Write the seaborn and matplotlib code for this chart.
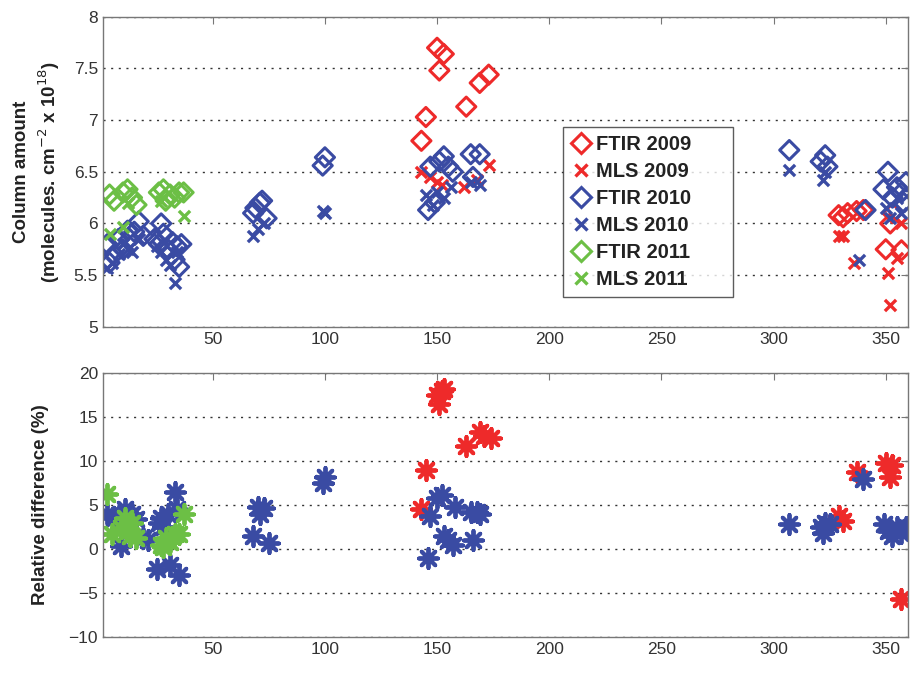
import numpy as np
import pandas as pd
import matplotlib
matplotlib.use("Agg")
import matplotlib.pyplot as plt
import seaborn as sns
from matplotlib.lines import Line2D

# Day of year / column amounts (molecules cm-2 x 1e18)
ftir09_x = [143, 145, 150, 151, 153, 163, 169, 173, 329, 331, 333, 337, 340, 350, 352, 353, 357]
ftir09_y = [6.80, 7.03, 7.70, 7.48, 7.64, 7.13, 7.36, 7.44, 6.08, 6.06, 6.10, 6.12, 6.13, 5.75, 6.00, 6.10, 5.74]
mls09_x = [143, 147, 150, 152, 162, 168, 173, 329, 331, 336, 351, 352, 355, 357]
mls09_y = [6.50, 6.45, 6.40, 6.37, 6.35, 6.42, 6.57, 5.88, 5.88, 5.62, 5.52, 5.21, 5.67, 6.00]

ftir10_x = [3, 4, 6, 8, 10, 12, 13, 15, 17, 19, 24, 26, 27, 28, 30, 32, 33, 34, 35, 36,
            68, 69, 71, 72, 74, 99, 100,
            146, 147, 149, 151, 153, 155, 157, 165, 166, 169,
            307, 321, 323, 324, 341, 349, 351, 353, 355, 357, 359, 358]
ftir10_y = [5.80, 5.62, 5.70, 5.85, 5.75, 5.93, 5.85, 5.92, 6.02, 5.88, 5.85, 5.80, 6.00, 5.90, 5.75, 5.82, 5.65, 5.78, 5.58, 5.80,
            6.10, 6.15, 6.20, 6.22, 6.05, 6.56, 6.64,
            6.13, 6.55, 6.20, 6.60, 6.65, 6.55, 6.50, 6.67, 6.45, 6.67,
            6.71, 6.60, 6.66, 6.55, 6.13, 6.33, 6.50, 6.25, 6.35, 6.30, 6.40, 6.20]
mls10_x = [3, 5, 8, 10, 12, 14, 17, 25, 27, 29, 31, 33, 34, 68, 70, 73, 99, 100,
           145, 148, 150, 153, 156, 165, 169, 307, 322, 323, 338, 350, 352, 355, 357]
mls10_y = [5.57, 5.62, 5.70, 5.80, 5.75, 5.72, 5.85, 5.78, 5.72, 5.65, 5.60, 5.42, 5.72, 5.88, 5.95, 6.00, 6.12, 6.10,
           6.28, 6.18, 6.30, 6.25, 6.35, 6.40, 6.37, 6.52, 6.42, 6.50, 5.65, 6.15, 6.05, 6.25, 6.10]

ftir11_x = [4, 6, 10, 12, 14, 16, 26, 28, 29, 31, 33, 35, 37]
ftir11_y = [6.28, 6.22, 6.30, 6.33, 6.25, 6.18, 6.30, 6.33, 6.22, 6.28, 6.25, 6.30, 6.30]
mls11_x = [4, 10, 12, 27, 37]
mls11_y = [5.90, 5.97, 6.20, 6.22, 6.07]

# Relative difference (%)
rd09_x = [143, 145, 150, 151, 152, 153, 163, 169, 171, 174, 329, 331, 337, 350, 352, 353, 357]
rd09_y = [4.6, 9.0, 17.5, 16.5, 18.0, 18.2, 11.7, 13.3, 12.8, 12.6, 3.8, 3.2, 8.7, 9.8, 8.2, 9.5, -5.7]
rd10_x = [3, 6, 8, 9, 11, 13, 14, 16, 19, 21, 25, 26, 27, 28, 30, 31, 33, 34, 35,
          68, 70, 71, 73, 75, 99, 100,
          146, 147, 150, 152, 153, 155, 157, 158, 165, 166, 168, 169,
          307, 321, 322, 323, 325, 340, 349, 351, 353, 355, 357, 359]
rd10_y = [4.0, 3.5, 3.9, 0.3, 4.6, 1.5, 4.0, 3.4, 1.2, 1.0, -2.3, 3.0, 3.5, 2.5, 4.0, -1.8, 6.5, 4.5, -2.9,
          1.5, 4.8, 4.0, 4.7, 0.7, 7.5, 8.2,
          -1.0, 3.7, 5.8, 6.1, 1.5, 1.0, 0.5, 4.8, 4.2, 1.0, 4.2, 4.0,
          2.8, 2.5, 1.8, 3.0, 2.8, 8.0, 2.8, 2.0, 1.5, 2.5, 1.8, 2.5]
rd11_x = [3, 5, 9, 11, 12, 13, 14, 16, 27, 28, 29, 31, 33, 35, 37]
rd11_y = [6.3, 1.7, 2.4, 3.5, 2.0, 1.5, 3.0, 1.2, 0.5, 0.2, 1.2, 0.8, 1.7, 1.7, 4.0]

red = "#ee2a2a"
blue = "#3a4ba3"
green = "#6cbf45"

sns.set_style("white")
plt.rcParams['font.family'] = ['Liberation Sans', 'DejaVu Sans']

fig = plt.figure(figsize=(9.1, 6.88), dpi=100)
ax1 = fig.add_axes([0.113, 0.525, 0.885, 0.4506])
ax2 = fig.add_axes([0.113, 0.0741, 0.885, 0.3837])

# top panel
top = [(ftir09_x, ftir09_y, red, "D"), (mls09_x, mls09_y, red, "x"),
       (ftir10_x, ftir10_y, blue, "D"), (mls10_x, mls10_y, blue, "x"),
       (ftir11_x, ftir11_y, green, "D"), (mls11_x, mls11_y, green, "x")]
for xs, ys, c, m in top:
    if m == "D":
        sns.scatterplot(x=xs, y=ys, ax=ax1, marker="D", s=95, facecolor="none",
                        edgecolor=c, color=c, linewidth=2.2)
    else:
        sns.scatterplot(x=xs, y=ys, ax=ax1, marker="x", s=65, color=c, linewidth=2.4)

# bottom panel
star = (8, 2, 0)
for xs, ys, c in [(rd09_x, rd09_y, red), (rd10_x, rd10_y, blue), (rd11_x, rd11_y, green)]:
    sns.scatterplot(x=xs, y=ys, ax=ax2, marker=star, s=190, color=c, edgecolor=c, linewidth=2.8)

for ax in (ax1, ax2):
    ax.set_xlim(1, 360)
    ax.set_xticks([50, 100, 150, 200, 250, 300, 350])
    ax.grid(axis="y", linestyle=(0, (1.5, 4)), color="#333333", linewidth=1)
    ax.tick_params(direction="in", length=5, color="#777777", labelsize=12.5,
                   labelcolor="#333333", top=True, right=True)
    for sp in ax.spines.values():
        sp.set_color("#777777")
        sp.set_linewidth(1)

ax1.set_ylim(5, 8)
ax1.set_yticks(np.arange(5, 8.01, 0.5))
ax1.set_yticklabels(["5", "5.5", "6", "6.5", "7", "7.5", "8"])
ax1.set_ylabel("Column amount\n(molecules. cm$^{-2}$ x 10$^{18}$)", fontsize=13.5,
               fontweight="bold", color="#222222", labelpad=8, linespacing=1.35)

ax2.set_ylim(-10, 20)
ax2.set_yticks(np.arange(-10, 21, 5))
ax2.set_ylabel("Relative difference (%)", fontsize=13.5, fontweight="bold",
               color="#222222", labelpad=14)

handles = [
    Line2D([], [], ls="", marker="D", ms=10, mfc="none", mec=red, mew=2.2),
    Line2D([], [], ls="", marker="x", ms=9, color=red, mew=2.4),
    Line2D([], [], ls="", marker="D", ms=10, mfc="none", mec=blue, mew=2.2),
    Line2D([], [], ls="", marker="x", ms=9, color=blue, mew=2.4),
    Line2D([], [], ls="", marker="D", ms=10, mfc="none", mec=green, mew=2.2),
    Line2D([], [], ls="", marker="x", ms=9, color=green, mew=2.4),
]
labels = ["FTIR 2009", "MLS 2009", "FTIR 2010", "MLS 2010", "FTIR 2011", "MLS 2011"]
labels = [lb + "      " for lb in labels]
leg = ax1.legend(handles, labels, loc="upper left", bbox_to_anchor=(0.571, 0.645),
                 borderaxespad=0, frameon=True, fancybox=False, edgecolor="#333333",
                 prop={"weight": "bold", "size": 14.5}, labelspacing=0.40,
                 handletextpad=0.25, borderpad=0.4, handlelength=1.0)
leg.get_frame().set_linewidth(1)
for t in leg.get_texts():
    t.set_color("#222222")

fig.savefig("out.png", dpi=100)
